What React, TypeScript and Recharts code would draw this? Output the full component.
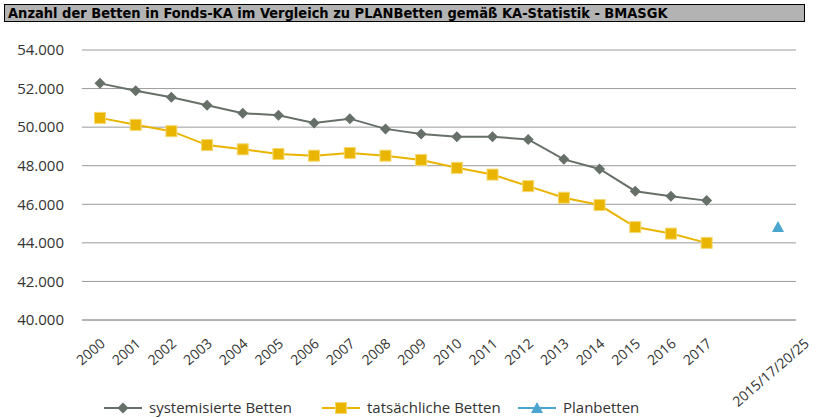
import React from 'react'
import { LineChart, Line, XAxis, YAxis, CartesianGrid } from 'recharts'

// x categories (one empty slot before the plan column)
const years = [
  '2000', '2001', '2002', '2003', '2004', '2005', '2006', '2007', '2008',
  '2009', '2010', '2011', '2012', '2013', '2014', '2015', '2016', '2017',
  '', '2015/17/20/25',
]

const systemisiert = [
  52270, 51890, 51550, 51130, 50720, 50620, 50210, 50440, 49910, 49640,
  49500, 49500, 49360, 48330, 47830, 46680, 46420, 46190, null, null,
]

const tatsaechlich = [
  50480, 50120, 49790, 49070, 48850, 48610, 48520, 48660, 48520, 48300,
  47890, 47540, 46940, 46340, 45960, 44820, 44480, 44000, null, null,
]

const planbetten = [
  null, null, null, null, null, null, null, null, null, null,
  null, null, null, null, null, null, null, null, null, 44820,
]

const yTicks = [40000, 42000, 44000, 46000, 48000, 50000, 52000, 54000]

const title =
  'Anzahl der Betten in Fonds-KA im Vergleich zu PLANBetten gemäß KA-Statistik - BMASGK'

const series = [
  { key: 'sys', name: 'systemisierte Betten', color: '#667068', shape: 'diamond' },
  { key: 'tat', name: 'tatsächliche Betten', color: '#E9B500', shape: 'square' },
  { key: 'plan', name: 'Planbetten', color: '#4BA6CF', shape: 'triangle' },
]

const data = years.map((y, i) => ({
  year: y,
  sys: systemisiert[i],
  tat: tatsaechlich[i],
  plan: planbetten[i],
}))

const fmt = (v: number) => v.toLocaleString('de-DE')

const Marker = ({ cx, cy, shape, color }: any) => {
  if (cx == null || cy == null) return null
  if (shape === 'diamond') {
    return (
      <path
        d={`M${cx},${cy - 5.5} L${cx + 5.5},${cy} L${cx},${cy + 5.5} L${cx - 5.5},${cy} Z`}
        fill={color}
      />
    )
  }
  if (shape === 'square') {
    return (
      <rect x={cx - 5.5} y={cy - 5.5} width={11} height={11} fill={color} stroke="#F5D870" strokeWidth={1} />
    )
  }
  return <path d={`M${cx},${cy - 6} L${cx + 6},${cy + 5} L${cx - 6},${cy + 5} Z`} fill={color} />
}

const makeDot = (shape: string, color: string) => (props: any) => (
  <Marker key={`${shape}-${props.index}`} cx={props.cx} cy={props.cy} shape={shape} color={color} />
)

const XTick = (props: any) => {
  const { x, y, payload } = props
  const long = String(payload.value).length > 6
  const ax = x + (long ? 32 : 6)
  const ay = y + (long ? 17 : 17)
  return (
    <text
      x={ax}
      y={ay}
      transform={`rotate(-41, ${ax}, ${ay})`}
      textAnchor="end"
      fontSize={14}
      fill="#333"
      fontFamily="Open Sans"
    >
      {payload.value}
    </text>
  )
}

const legendPos = [104, 322, 518]

function App() {
  return (
    <div style={{ position: 'absolute', left: 0, top: 0, width: 819, height: 418, background: '#fff' }}>
      <div
        style={{
          position: 'absolute',
          left: 4,
          top: 4,
          width: 796,
          height: 16,
          background: '#B3B3B3',
          border: '1px solid #000',
          fontFamily: 'DejaVu Sans Condensed',
          fontWeight: 'bold',
          fontSize: 14.5,
          lineHeight: '16px',
          paddingLeft: 3,
          color: '#000',
          whiteSpace: 'nowrap',
        }}
      >
        {title}
      </div>
      <LineChart
        width={819}
        height={418}
        data={data}
        margin={{ top: 50, right: 23, bottom: 30, left: 0 }}
      >
        <CartesianGrid vertical={false} stroke="#9a9a9a" strokeWidth={1} />
        <XAxis
          dataKey="year"
          interval={0}
          tickLine={false}
          axisLine={{ stroke: '#9a9a9a' }}
          height={68}
          padding={{ left: 18, right: 18 }}
          tick={<XTick />}
        />
        <YAxis
          width={82}
          domain={[40000, 54000]}
          ticks={yTicks}
          tickFormatter={fmt}
          axisLine={false}
          tickLine={false}
          tick={{ fontSize: 15, fill: '#333', fontFamily: 'Open Sans', dx: -10 }}
        />
        {series.map((s) => (
          <Line
            key={s.key}
            dataKey={s.key}
            name={s.name}
            stroke={s.color}
            strokeWidth={2}
            dot={makeDot(s.shape, s.color)}
            activeDot={false}
            isAnimationActive={false}
            connectNulls={false}
          />
        ))}
      </LineChart>
      <svg style={{ position: 'absolute', left: 0, top: 396 }} width={819} height={22}>
        {series.map((s, i) => (
          <g key={s.key}>
            <line x1={legendPos[i]} x2={legendPos[i] + 38} y1={12} y2={12} stroke={s.color} strokeWidth={2} />
            <Marker cx={legendPos[i] + 19} cy={12} shape={s.shape} color={s.color} />
            <text x={legendPos[i] + 45} y={17} fontSize={15} fill="#333" fontFamily="Open Sans">
              {s.name}
            </text>
          </g>
        ))}
      </svg>
    </div>
  )
}

export default App
